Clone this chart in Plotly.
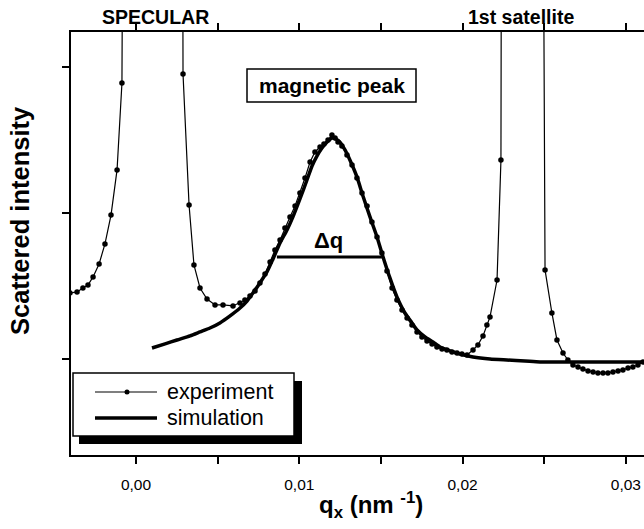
import plotly.graph_objects as go

# ---------------- data ----------------
# experiment: q_x (nm^-1), scattered intensity (arb. units)
exp_q = [-0.00404, -0.00361, -0.00325, -0.00294, -0.00263, -0.00226, -0.00190, -0.00153,
         -0.00116, -0.00086, -0.00073, 0.00104, 0.00282, 0.00288, 0.00325, 0.00355,
         0.00392, 0.00435, 0.00484, 0.00533, 0.00594, 0.00637, 0.00667, 0.00698,
         0.00729, 0.00759, 0.00790, 0.00821, 0.00851, 0.00882, 0.00912, 0.00943,
         0.00974, 0.01004, 0.01035, 0.01066, 0.01096, 0.01127, 0.01151, 0.01176,
         0.01200, 0.01219, 0.01237, 0.01261, 0.01292, 0.01323, 0.01353, 0.01384,
         0.01415, 0.01445, 0.01476, 0.01506, 0.01537, 0.01568, 0.01598, 0.01629,
         0.01660, 0.01690, 0.01721, 0.01751, 0.01782, 0.01813, 0.01843, 0.01874,
         0.01904, 0.01935, 0.01966, 0.01996, 0.02027, 0.02064, 0.02094, 0.02125,
         0.02149, 0.02168, 0.02211, 0.02235, 0.02241, 0.02364, 0.02486, 0.02505,
         0.02547, 0.02578, 0.02615, 0.02645, 0.02676, 0.02707, 0.02737, 0.02768,
         0.02799, 0.02829, 0.02860, 0.02890, 0.02921, 0.02952, 0.02982, 0.03013,
         0.03043, 0.03074, 0.03105]
exp_i = [1.452, 1.459, 1.486, 1.507, 1.562, 1.651, 1.788, 1.986,
         2.295, 2.890, 6.2, 30.0, 6.2, 2.952, 2.055, 1.644,
         1.486, 1.411, 1.370, 1.370, 1.363, 1.384, 1.404, 1.432,
         1.466, 1.521, 1.582, 1.664, 1.747, 1.815, 1.897, 1.973,
         2.048, 2.137, 2.240, 2.349, 2.418, 2.452, 2.473, 2.500,
         2.534, 2.514, 2.486, 2.459, 2.397, 2.329, 2.240, 2.137,
         2.048, 1.938, 1.836, 1.726, 1.603, 1.486, 1.404, 1.336,
         1.281, 1.233, 1.185, 1.151, 1.123, 1.103, 1.082, 1.068,
         1.062, 1.048, 1.041, 1.034, 1.027, 1.062, 1.096, 1.158,
         1.233, 1.288, 1.541, 2.363, 6.2, 30.0, 6.2, 1.610,
         1.315, 1.130, 1.041, 0.993, 0.959, 0.945, 0.932, 0.918,
         0.911, 0.904, 0.904, 0.904, 0.911, 0.918, 0.925, 0.938,
         0.945, 0.959, 0.979]

# simulation
sim_q = [0.00098, 0.00178, 0.00251, 0.00331, 0.00392, 0.00453, 0.00514, 0.00576,
         0.00637, 0.00680, 0.00716, 0.00759, 0.00802, 0.00839, 0.00882, 0.00925,
         0.00961, 0.01004, 0.01047, 0.01078, 0.01108, 0.01139, 0.01170, 0.01200,
         0.01225, 0.01249, 0.01280, 0.01310, 0.01353, 0.01390, 0.01433, 0.01476,
         0.01513, 0.01555, 0.01598, 0.01647, 0.01690, 0.01721, 0.01770, 0.01819,
         0.01862, 0.01923, 0.01984, 0.02064, 0.02168, 0.02272, 0.02382, 0.02474,
         0.02596, 0.02719, 0.02841, 0.02964, 0.03111]
sim_i = [1.075, 1.103, 1.130, 1.158, 1.185, 1.212, 1.247, 1.295,
         1.349, 1.397, 1.452, 1.521, 1.596, 1.685, 1.795, 1.884,
         1.973, 2.096, 2.226, 2.322, 2.390, 2.445, 2.486, 2.514,
         2.507, 2.486, 2.432, 2.363, 2.247, 2.116, 1.973, 1.836,
         1.699, 1.555, 1.425, 1.315, 1.247, 1.199, 1.151, 1.116,
         1.082, 1.055, 1.034, 1.014, 1.000, 0.993, 0.986, 0.979,
         0.979, 0.979, 0.979, 0.979, 0.979]

# FWHM marker (delta q)
dq_q = [0.00863, 0.01506]
dq_level = 1.699

x_tickvals = [0.00, 0.01, 0.02, 0.03]
x_ticktext = ["0,00", "0,01", "0,02", "0,03"]
y_tickvals = [1, 2, 3]

X_RANGE = [-0.00398, 0.03111]
Y_RANGE = [0.342, 3.240]

FONT = "Liberation Sans, Arial, Helvetica, sans-serif"

fig = go.Figure()

fig.add_trace(go.Scatter(
    x=sim_q, y=sim_i, mode="lines", name="simulation",
    line=dict(color="black", width=3.5, shape="spline", smoothing=0.6),
    showlegend=False, hoverinfo="skip"))

fig.add_trace(go.Scatter(
    x=exp_q, y=exp_i, mode="lines+markers", name="experiment",
    line=dict(color="black", width=1.2),
    marker=dict(color="black", size=5.5),
    showlegend=False, cliponaxis=True, hoverinfo="skip"))

# delta q bar
fig.add_shape(type="line", xref="x", yref="y",
              x0=dq_q[0], x1=dq_q[1], y0=dq_level, y1=dq_level,
              line=dict(color="black", width=3))


def px_x(p):
    return (p - 71) / 573.0


def px_y(p):
    return (455 - p) / 423.0


# "magnetic peak" frame
fig.add_shape(type="rect", xref="paper", yref="paper",
              x0=px_x(247), x1=px_x(416), y0=px_y(102), y1=px_y(69),
              fillcolor="white", line=dict(color="black", width=1.5))

# legend drawn by hand (with drop shadow)
fig.add_shape(type="rect", xref="paper", yref="paper",
              x0=px_x(79), x1=px_x(302), y0=px_y(444), y1=px_y(381),
              fillcolor="black", line=dict(width=0))
fig.add_shape(type="rect", xref="paper", yref="paper",
              x0=px_x(73), x1=px_x(294), y0=px_y(436), y1=px_y(373),
              fillcolor="white", line=dict(color="black", width=1.5))
fig.add_shape(type="line", xref="paper", yref="paper",
              x0=px_x(95), x1=px_x(157), y0=px_y(392), y1=px_y(392),
              line=dict(color="black", width=1.2))
fig.add_shape(type="circle", xref="paper", yref="paper",
              x0=px_x(124.5), x1=px_x(129.5), y0=px_y(394.5), y1=px_y(389.5),
              fillcolor="black", line=dict(width=0))
fig.add_shape(type="line", xref="paper", yref="paper",
              x0=px_x(95), x1=px_x(157), y0=px_y(418), y1=px_y(418),
              line=dict(color="black", width=3.5))

ann = [
    dict(text="experiment", x=px_x(165), y=px_y(392), xanchor="left", yanchor="middle",
         font=dict(size=21.5)),
    dict(text="simulation", x=px_x(165), y=px_y(418), xanchor="left", yanchor="middle",
         font=dict(size=21.5)),
    dict(text="<b>SPECULAR</b>", x=px_x(155), y=px_y(17), xanchor="center", yanchor="middle",
         font=dict(size=19.5)),
    dict(text="<b>1st satellite</b>", x=px_x(521), y=px_y(17), xanchor="center", yanchor="middle",
         font=dict(size=19.5)),
    dict(text="<b>magnetic peak</b>", x=px_x(331.5), y=px_y(86), xanchor="center", yanchor="middle",
         font=dict(size=21)),
    dict(text="<b>Δq</b>", x=px_x(328), y=px_y(240), xanchor="center", yanchor="middle",
         font=dict(size=22)),
    dict(text="<b>q<sub>x</sub> (nm <sup>-1</sup>)</b>", x=px_x(371), y=px_y(505),
         xanchor="center", yanchor="middle", font=dict(size=24)),
    dict(text="<b>Scattered intensity</b>", x=px_x(20), y=px_y(221), textangle=-90,
         xanchor="center", yanchor="middle", font=dict(size=25.5)),
]
for a in ann:
    a.update(xref="paper", yref="paper", showarrow=False)
    a["font"].update(family=FONT, color="black")
    fig.add_annotation(**a)

fig.update_layout(
    width=644, height=529,
    margin=dict(l=71, r=0, t=32, b=74),
    paper_bgcolor="white", plot_bgcolor="white",
    font=dict(family=FONT, color="black"),
    showlegend=False,
    hovermode=False,
    xaxis=dict(range=X_RANGE, tickvals=x_tickvals, ticktext=x_ticktext,
               showgrid=False, zeroline=False, showline=True, linecolor="black", linewidth=2,
               mirror="ticks", ticks="outside", ticklen=7, tickwidth=2, tickcolor="black",
               tickfont=dict(size=15.5, family=FONT), ticklabelstandoff=7,
               minor=dict(dtick=0.005, tick0=0, ticks="outside", ticklen=7, tickwidth=2,
                          tickcolor="black", showgrid=False)),
    yaxis=dict(range=Y_RANGE, tickvals=y_tickvals, showticklabels=False,
               showgrid=False, zeroline=False, showline=True, linecolor="black", linewidth=2,
               ticks="outside", ticklen=7, tickwidth=2, tickcolor="black"),
)

fig.write_html("out.html", config={"displayModeBar": False},
               post_script="document.body.style.margin='0';document.body.style.padding='0';")
